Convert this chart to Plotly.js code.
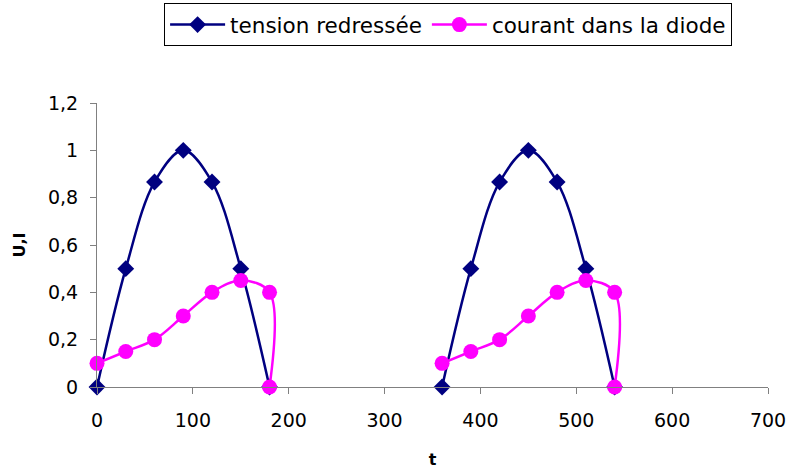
<!DOCTYPE html>
<html>
<head>
<meta charset="utf-8">
<script src="https://cdn.plot.ly/plotly-3.0.1.min.js"></script>
<style>
  html, body { margin: 0; padding: 0; background: #fff; }
  #chart { width: 806px; height: 475px; }
</style>
</head>
<body>
<div id="chart"></div>
<script>
// Two half-wave periods; null breaks the line between them
const tTension = [0, 30, 60, 90, 120, 150, 180, null, 360, 390, 420, 450, 480, 510, 540];
const uTension = [0, 0.5, 0.866, 1, 0.866, 0.5, 0, null, 0, 0.5, 0.866, 1, 0.866, 0.5, 0];

const tCourant = [0, 30, 60, 90, 120, 150, 180, 180, null, 360, 390, 420, 450, 480, 510, 540, 540];
const iCourant = [0.1, 0.15, 0.2, 0.3, 0.4, 0.45, 0.4, 0, null, 0.1, 0.15, 0.2, 0.3, 0.4, 0.45, 0.4, 0];

const seriesNames = ['tension redressée', 'courant dans la diode'];
const xTicks = [0, 100, 200, 300, 400, 500, 600, 700];
const yTicks = [0, 0.2, 0.4, 0.6, 0.8, 1, 1.2];
const yTickText = ['0', '0,2', '0,4', '0,6', '0,8', '1', '1,2'];

const font = 'DejaVu Sans, Arial, sans-serif';

const traces = [
  {
    x: tTension, y: uTension, name: seriesNames[0],
    mode: 'lines+markers', cliponaxis: false,
    line: { color: '#000080', width: 2.5, shape: 'spline', smoothing: 1 },
    marker: { symbol: 'diamond', size: 13, color: '#000080' }
  },
  {
    x: tCourant, y: iCourant, name: seriesNames[1],
    mode: 'lines+markers', cliponaxis: false,
    line: { color: '#FF00FF', width: 2.5, shape: 'spline', smoothing: 1 },
    marker: { symbol: 'circle', size: 15, color: '#FF00FF' }
  }
];

const layout = {
  width: 806, height: 475,
  margin: { l: 97, r: 38, t: 103, b: 88, autoexpand: false },
  paper_bgcolor: '#fff', plot_bgcolor: '#fff',
  separators: ', ',
  font: { family: font, size: 19, color: '#000' },
  showlegend: true,
  legend: {
    orientation: 'h', x: 0.1, xanchor: 'left', y: 1.276, yanchor: 'middle',
    bordercolor: '#000', borderwidth: 1,
    font: { family: font, size: 21.5, color: '#000' },
    itemwidth: 55,
    tracegroupgap: 0
  },
  xaxis: {
    range: [0, 700], tickvals: xTicks, ticktext: xTicks.map(String),
    showgrid: false, zeroline: false,
    showline: true, linecolor: '#808080', linewidth: 1,
    ticks: 'outside', ticklen: 6, tickcolor: '#808080',
    ticklabelstandoff: 10,
    tickfont: { family: font, size: 19 },
    title: { text: '<b>t</b>', font: { family: font, size: 16 }, standoff: 24 }
  },
  yaxis: {
    range: [0, 1.2], tickvals: yTicks, ticktext: yTickText,
    showgrid: false, zeroline: false,
    showline: true, linecolor: '#808080', linewidth: 1,
    ticks: 'outside', ticklen: 6, tickcolor: '#808080',
    ticklabelstandoff: 8,
    tickfont: { family: font, size: 19 },
    title: { text: '<b>U,I</b>', font: { family: font, size: 16 }, standoff: 18 }
  }
};

Plotly.newPlot('chart', traces, layout, { displayModeBar: false, staticPlot: true });
</script>
</body>
</html>
